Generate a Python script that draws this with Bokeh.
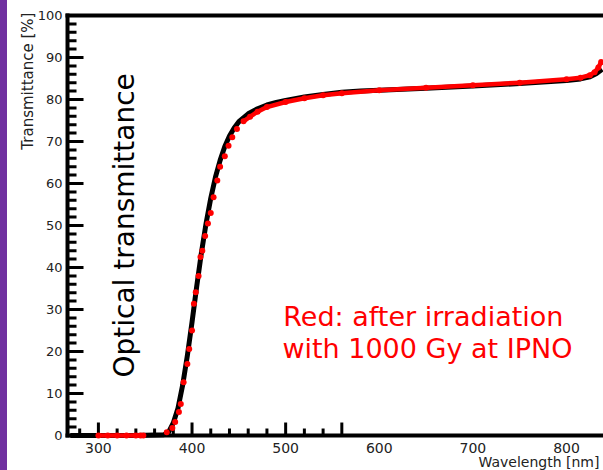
import math
import numpy as np
from bokeh.plotting import figure
from bokeh.layouts import row
from bokeh.models import Range1d, Label, Div
from bokeh.core.properties import value
from bokeh.embed import file_html
from bokeh.resources import INLINE

# ---- data ----
black_wl = [270, 300, 340, 370, 375, 380, 385, 390, 395, 400, 405, 410, 415, 420,
            425, 430, 435, 440, 445, 450, 460, 470, 480, 490, 500, 520, 540, 560,
            580, 600, 650, 700, 750, 800, 815, 825, 832, 838]
black_T = [0, 0, 0, 0.2, 0.8, 3, 6.5, 12, 19, 27, 35.5, 43.5, 50.5, 56.5,
           61.5, 65.5, 68.8, 71.3, 73.2, 74.7, 76.6, 77.8, 78.7, 79.3, 79.8, 80.6, 81.2, 81.7,
           82.0, 82.2, 82.7, 83.2, 83.8, 84.5, 84.9, 85.4, 86.2, 87.2]

red_wl = [300, 310, 320, 330, 340, 345, 348, 373, 379, 382, 386, 388, 391, 395, 397,
          400, 402, 404, 407, 409, 411, 414, 417, 420, 423, 427, 430, 435, 439, 443,
          448, 455, 462, 470, 480, 500, 520, 540, 560, 600, 650, 700, 750, 800, 815,
          825, 830, 834, 837]
red_T = [0, 0, 0, 0, 0, 0, 0, 0.8, 1.8, 3.2, 5.6, 7.5, 12.7, 17, 20.6,
         25, 31.4, 34.1, 38, 42.5, 44, 47.5, 50.5, 53, 56.7, 60.7, 64, 66.5, 69, 71,
         73, 74.8, 75.9, 77.1, 78.2, 79.4, 80.3, 81.0, 81.5, 82.2, 82.8, 83.4, 84.0, 84.8, 85.2,
         85.8, 86.5, 87.6, 88.9]

y_ticks = [0, 10, 20, 30, 40, 50, 60, 70, 80, 90, 100]
y_minor = [v for v in range(0, 101, 2) if v % 10 != 0]
x_label_ticks = [300, 400, 500, 600, 700, 800]
x_tick_marks = [300, 400, 500, 560]
x_minor_marks = [280, 320, 340, 360, 380, 420, 440, 460, 480, 520, 540]

# view window (whole canvas is the plotting frame)
W, H = 596, 470
XL, X1 = 202.9, 839.5        # wavelength at left / right edge of canvas
YB, YT = -8.33, 103.57       # transmittance at bottom / top edge of canvas
AXIS_X = 267                 # where the vertical axis sits
Y_LO, Y_HI = y_ticks[0], y_ticks[-1]
NM_PER_PX = (X1 - XL) / W
T_PER_PX = (YT - YB) / H

FONT = "DejaVu Sans"

p = figure(width=W, height=H, output_backend="svg", toolbar_location=None,
           x_range=Range1d(XL, X1), y_range=Range1d(YB, YT),
           x_axis_location=None, y_axis_location=None,
           min_border_left=0, min_border_right=0, min_border_top=0, min_border_bottom=0,
           margin=0)
p.xgrid.visible = False
p.ygrid.visible = False
p.outline_line_color = None
p.background_fill_color = "white"
p.border_fill_color = "white"

# frame lines: left axis, bottom axis, top edge
p.segment(x0=[AXIS_X, AXIS_X, AXIS_X], y0=[Y_LO, Y_LO, Y_HI],
          x1=[AXIS_X, X1, X1], y1=[Y_HI, Y_LO, Y_HI],
          line_color="black", line_width=4, line_cap="square")

# y tick marks (pointing into the plot), as thin filled bars
p.hbar(y=list(y_ticks), left=AXIS_X, right=AXIS_X + 16 * NM_PER_PX,
       height=3 * T_PER_PX, fill_color="black", line_color=None)
p.hbar(y=list(y_minor), left=AXIS_X, right=AXIS_X + 9 * NM_PER_PX,
       height=3 * T_PER_PX, fill_color="black", line_color=None)
# x tick marks
p.ray(x=list(x_tick_marks), y=[Y_LO] * len(x_tick_marks), length=13, length_units="screen",
      angle=math.pi / 2, line_color="black", line_width=3)
p.ray(x=list(x_minor_marks), y=[Y_LO] * len(x_minor_marks), length=7, length_units="screen",
      angle=math.pi / 2, line_color="black", line_width=3)

# tick labels
p.text(x=[AXIS_X] * len(y_ticks), y=list(y_ticks), text=[str(v) for v in y_ticks],
       x_offset=-5, text_font=value(FONT), text_font_size="13px", text_color="#222222",
       text_align="right", text_baseline="middle")
p.text(x=list(x_label_ticks), y=[-3.0] * len(x_label_ticks),
       text=[str(v) for v in x_label_ticks],
       text_font=value(FONT), text_font_size="14px", text_color="#222222",
       text_align="center", text_baseline="alphabetic")

# black curve
p.line(black_wl, black_T, line_color="black", line_width=5, line_join="round")

# red curve: continuous where the points are dense (one path, gap on the steep part),
# dots everywhere
rw = np.array(red_wl, dtype=float)
rt = np.array(red_T, dtype=float)
low = rw <= 345
high = rw >= 455
red_line_x = np.concatenate([rw[low], [np.nan], rw[high]])
red_line_y = np.concatenate([rt[low], [np.nan], rt[high]])
p.line(red_line_x, red_line_y, line_color="red", line_width=4.5, line_join="round")
p.scatter(rw, rt, marker="circle", size=6, fill_color="red", line_color=None)

# texts
p.add_layout(Label(x=224.3, y=100.7, angle=math.pi / 2, text="Transmittance [%]",
                   text_font=FONT, text_font_size="15px", text_color="#222222",
                   text_align="right", text_baseline="alphabetic"))
p.add_layout(Label(x=327.8, y=13.8, angle=math.pi / 2, text="Optical transmittance",
                   text_font=FONT, text_font_size="28px", text_color="black",
                   text_align="left", text_baseline="alphabetic"))
p.add_layout(Label(x=497.5, y=28.3, text="Red: after irradiation",
                   text_font=FONT, text_font_size="27px", text_color="red",
                   text_align="left", text_baseline="alphabetic"))
p.add_layout(Label(x=496.5, y=20.7, text="with 1000 Gy at IPNO",
                   text_font=FONT, text_font_size="27px", text_color="red",
                   text_align="left", text_baseline="alphabetic"))
p.add_layout(Label(x=706, y=-6.2, text="Wavelength [nm]",
                   text_font=FONT, text_font_size="14px", text_color="#222222",
                   text_align="left", text_baseline="alphabetic"))

bar = Div(text="", width=7, height=470, margin=0, styles={"background-color": "#7030a0"})
layout = row(bar, p, spacing=0)

open("out.html", "w").write(file_html(layout, INLINE))
